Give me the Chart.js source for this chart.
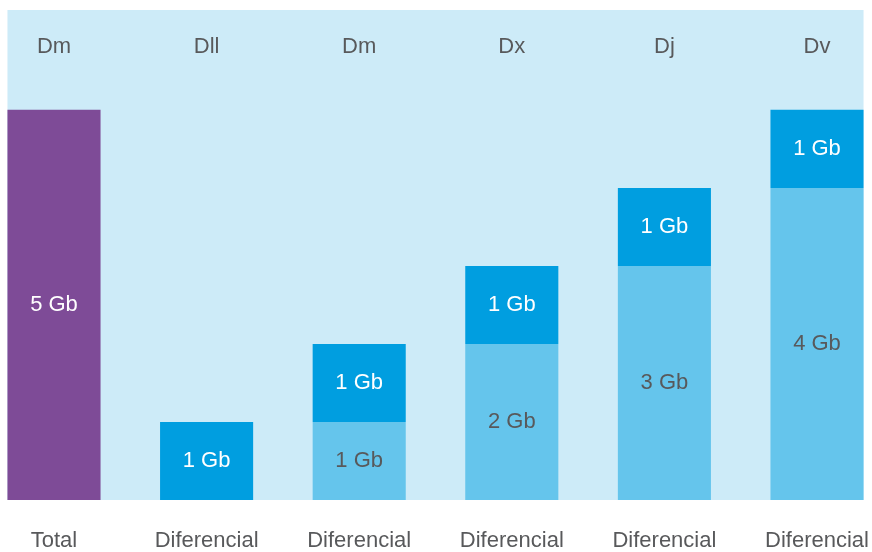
<!DOCTYPE html>
<html>
<head>
<meta charset="utf-8">
<script src="https://cdn.jsdelivr.net/npm/chart.js@4.4.1/dist/chart.umd.min.js"></script>
<style>
  html, body { margin: 0; padding: 0; background: #ffffff; }
  #wrap { width: 872px; height: 552px; position: relative; }
</style>
</head>
<body>
<div id="wrap"><canvas id="c" width="872" height="552"></canvas></div>
<script>
// ---- data ----
const bottomLabels = ["Total", "Diferencial", "Diferencial", "Diferencial", "Diferencial", "Diferencial"];
const topLabels = ["Dm", "Dll", "Dm", "Dx", "Dj", "Dv"];
const totalValues = [5, null, null, null, null, null];
const baseValues = [null, null, 1, 2, 3, 4];
const diffValues = [null, 1, 1, 1, 1, 1];
const unit = "Gb";

const FONT = "'Liberation Sans', Arial, Helvetica, sans-serif";
const GRAY = "#58595b";
const BG = "#cdebf8";

const bgPlugin = {
  id: 'bgPanel',
  beforeDatasetsDraw(chart) {
    const ctx = chart.ctx, area = chart.chartArea;
    const x = chart.scales.x;
    const first = chart.getDatasetMeta(0).data[0];
    const last = chart.getDatasetMeta(2).data[chart.data.labels.length - 1];
    const left = first.x - first.width / 2;
    const right = last.x + last.width / 2;
    ctx.save();
    ctx.fillStyle = BG;
    ctx.fillRect(left, area.top, right - left, area.bottom - area.top);
    // top labels
    ctx.fillStyle = GRAY;
    ctx.font = "22px " + FONT;
    ctx.textAlign = "center";
    ctx.textBaseline = "middle";
    topLabels.forEach((t, i) => {
      ctx.fillText(t, x.getPixelForValue(i), area.top + 37);
    });
    ctx.restore();
  }
};

const valuePlugin = {
  id: 'valueLabels',
  afterDatasetsDraw(chart) {
    const ctx = chart.ctx;
    ctx.save();
    ctx.font = "22px " + FONT;
    ctx.textAlign = "center";
    ctx.textBaseline = "middle";
    chart.data.datasets.forEach((ds, di) => {
      const meta = chart.getDatasetMeta(di);
      meta.data.forEach((el, i) => {
        const v = ds.data[i];
        if (v === null || v === undefined) return;
        ctx.fillStyle = ds.labelColor;
        ctx.fillText(v + " " + unit, el.x, (el.y + el.base) / 2);
      });
    });
    ctx.restore();
  }
};

new Chart(document.getElementById('c'), {
  type: 'bar',
  data: {
    labels: bottomLabels,
    datasets: [
      { label: 'Total', data: totalValues, backgroundColor: '#7e4b97', labelColor: '#ffffff', clip: false },
      { label: 'Base', data: baseValues, backgroundColor: '#65c5ec', labelColor: GRAY, clip: false },
      { label: 'Diferencial', data: diffValues, backgroundColor: '#009ee0', labelColor: '#ffffff', clip: false }
    ]
  },
  options: {
    responsive: false,
    animation: false,
    events: [],
    layout: { padding: { left: 54, right: 55, top: 10, bottom: 0 } },
    datasets: { bar: { categoryPercentage: 0.61, barPercentage: 1, borderWidth: 0 } },
    plugins: { legend: { display: false }, tooltip: { enabled: false } },
    scales: {
      x: {
        stacked: true,
        offset: false,
        grid: { display: false, drawTicks: false },
        border: { display: false },
        ticks: { color: GRAY, font: { size: 22, family: FONT }, padding: 28, maxRotation: 0, autoSkip: false },
        afterFit(scale) {
          scale.height = 52;
          scale.paddingLeft = 0;
          scale.paddingRight = 0;
        }
      },
      y: {
        stacked: true,
        display: false,
        min: 0,
        max: 6.28
      }
    }
  },
  plugins: [bgPlugin, valuePlugin]
});
</script>
</body>
</html>
